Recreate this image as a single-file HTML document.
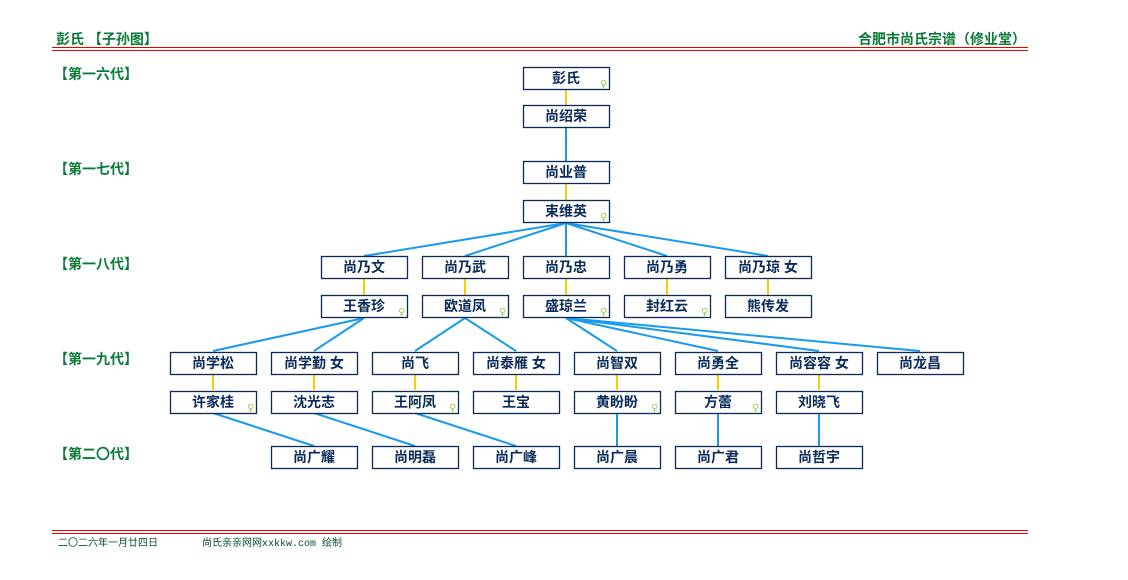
<!DOCTYPE html>
<html><head><meta charset="utf-8"><style>
body{margin:0;background:#fff;}
svg{display:block;font-family:"Liberation Sans","Noto Sans CJK SC",sans-serif;}
.n{font-size:14px;font-weight:bold;fill:#0a2a5a;}
.g{font-size:14px;font-weight:bold;fill:#0a7a3a;}
.f{font-size:10px;fill:#9c5;font-family:"DejaVu Sans",sans-serif;}
</style></head><body>
<svg width="1128" height="580" xmlns="http://www.w3.org/2000/svg">
<text x="56" y="44" class="g" font-size="15">彭氏 【子孙图】</text>
<text x="1026" y="44" class="g" text-anchor="end" font-size="15">合肥市尚氏宗谱（修业堂）</text>
<line x1="52" y1="47.5" x2="1028" y2="47.5" stroke="#e00" stroke-width="1"/>
<line x1="52" y1="50.5" x2="1028" y2="50.5" stroke="#e00" stroke-width="1"/>
<line x1="52" y1="530.5" x2="1028" y2="530.5" stroke="#e00" stroke-width="1"/>
<line x1="52" y1="533.5" x2="1028" y2="533.5" stroke="#e00" stroke-width="1"/>
<text x="58" y="546" font-size="10" fill="#0a4a3a">二〇二六年一月廿四日</text>
<text x="202" y="546" font-size="10" fill="#0a4a3a" font-family="Liberation Mono,Noto Sans CJK SC,monospace">尚氏亲亲网网xxkkw.com 绘制</text>
<g class="g">
<text x="54" y="79">【第一六代】</text>
<text x="54" y="174">【第一七代】</text>
<text x="54" y="269">【第一八代】</text>
<text x="54" y="364">【第一九代】</text>
<text x="54" y="459">【第二〇代】</text>
</g>
<g stroke-width="2" fill="none">
<g stroke="#fc0">
<line x1="566" y1="89" x2="566" y2="105"/>
<line x1="566" y1="184" x2="566" y2="200"/>
<line x1="364" y1="279" x2="364" y2="295"/><line x1="465" y1="279" x2="465" y2="295"/><line x1="566" y1="279" x2="566" y2="295"/><line x1="667" y1="279" x2="667" y2="295"/><line x1="768" y1="279" x2="768" y2="295"/>
<line x1="213" y1="374" x2="213" y2="390"/><line x1="314" y1="374" x2="314" y2="390"/><line x1="415" y1="374" x2="415" y2="390"/><line x1="516" y1="374" x2="516" y2="390"/><line x1="617" y1="374" x2="617" y2="390"/><line x1="718" y1="374" x2="718" y2="390"/><line x1="819" y1="374" x2="819" y2="390"/>
</g>
<g stroke="#1a9aee">
<line x1="566" y1="128" x2="566" y2="161"/>
<line x1="566" y1="223" x2="364" y2="256"/><line x1="566" y1="223" x2="465" y2="256"/><line x1="566" y1="223" x2="566" y2="256"/><line x1="566" y1="223" x2="667" y2="256"/><line x1="566" y1="223" x2="768" y2="256"/>
<line x1="364" y1="318" x2="213" y2="351"/><line x1="364" y1="318" x2="314" y2="351"/>
<line x1="465" y1="318" x2="415" y2="351"/><line x1="465" y1="318" x2="516" y2="351"/>
<line x1="566" y1="318" x2="617" y2="351"/><line x1="566" y1="318" x2="718" y2="351"/><line x1="566" y1="318" x2="819" y2="351"/><line x1="566" y1="318" x2="920" y2="351"/>
<line x1="213" y1="413" x2="314" y2="446"/><line x1="314" y1="413" x2="415" y2="446"/><line x1="415" y1="413" x2="516" y2="446"/>
<line x1="617" y1="413" x2="617" y2="446"/><line x1="718" y1="413" x2="718" y2="446"/><line x1="819" y1="413" x2="819" y2="446"/>
</g>
</g>
<g fill="#fff" stroke="#0a2a5a" stroke-width="1.3">
<rect x="523.5" y="67.5" width="86" height="22"/><rect x="523.5" y="105.5" width="86" height="22"/>
<rect x="523.5" y="161.5" width="86" height="22"/><rect x="523.5" y="200.5" width="86" height="22"/>
<rect x="321.5" y="256.5" width="86" height="22"/><rect x="422.5" y="256.5" width="86" height="22"/><rect x="523.5" y="256.5" width="86" height="22"/><rect x="624.5" y="256.5" width="86" height="22"/><rect x="725.5" y="256.5" width="86" height="22"/>
<rect x="321.5" y="295.5" width="86" height="22"/><rect x="422.5" y="295.5" width="86" height="22"/><rect x="523.5" y="295.5" width="86" height="22"/><rect x="624.5" y="295.5" width="86" height="22"/><rect x="725.5" y="295.5" width="86" height="22"/>
<rect x="170.5" y="352.5" width="86" height="22"/><rect x="271.5" y="352.5" width="86" height="22"/><rect x="372.5" y="352.5" width="86" height="22"/><rect x="473.5" y="352.5" width="86" height="22"/><rect x="574.5" y="352.5" width="86" height="22"/><rect x="675.5" y="352.5" width="86" height="22"/><rect x="776.5" y="352.5" width="86" height="22"/><rect x="877.5" y="352.5" width="86" height="22"/>
<rect x="170.5" y="391.5" width="86" height="22"/><rect x="271.5" y="391.5" width="86" height="22"/><rect x="372.5" y="391.5" width="86" height="22"/><rect x="473.5" y="391.5" width="86" height="22"/><rect x="574.5" y="391.5" width="86" height="22"/><rect x="675.5" y="391.5" width="86" height="22"/><rect x="776.5" y="391.5" width="86" height="22"/>
<rect x="271.5" y="446.5" width="86" height="22"/><rect x="372.5" y="446.5" width="86" height="22"/><rect x="473.5" y="446.5" width="86" height="22"/><rect x="574.5" y="446.5" width="86" height="22"/><rect x="675.5" y="446.5" width="86" height="22"/><rect x="776.5" y="446.5" width="86" height="22"/>
</g>
<g class="n" text-anchor="middle">
<text x="566" y="83">彭氏</text><text x="566" y="121">尚绍荣</text>
<text x="566" y="177">尚业普</text><text x="566" y="216">束维英</text>
<text x="364" y="272">尚乃文</text><text x="465" y="272">尚乃武</text><text x="566" y="272">尚乃忠</text><text x="667" y="272">尚乃勇</text><text x="768" y="272">尚乃琼 女</text>
<text x="364" y="311">王香珍</text><text x="465" y="311">欧道凤</text><text x="566" y="311">盛琼兰</text><text x="667" y="311">封红云</text><text x="768" y="311">熊传发</text>
<text x="213" y="368">尚学松</text><text x="314" y="368">尚学勤 女</text><text x="415" y="368">尚飞</text><text x="516" y="368">尚泰雁 女</text><text x="617" y="368">尚智双</text><text x="718" y="368">尚勇全</text><text x="819" y="368">尚容容 女</text><text x="920" y="368">尚龙昌</text>
<text x="213" y="407">许家桂</text><text x="314" y="407">沈光志</text><text x="415" y="407">王阿凤</text><text x="516" y="407">王宝</text><text x="617" y="407">黄盼盼</text><text x="718" y="407">方蕾</text><text x="819" y="407">刘晓飞</text>
<text x="314" y="462">尚广耀</text><text x="415" y="462">尚明磊</text><text x="516" y="462">尚广峰</text><text x="617" y="462">尚广晨</text><text x="718" y="462">尚广君</text><text x="819" y="462">尚哲宇</text>
</g>
<g class="f">
<text x="600" y="87">♀</text><text x="600" y="220">♀</text>
<text x="398" y="315">♀</text><text x="499" y="315">♀</text><text x="600" y="315">♀</text><text x="701" y="315">♀</text>
<text x="247" y="411">♀</text><text x="449" y="411">♀</text><text x="651" y="411">♀</text><text x="752" y="411">♀</text>
</g>
</svg>
</body></html>
